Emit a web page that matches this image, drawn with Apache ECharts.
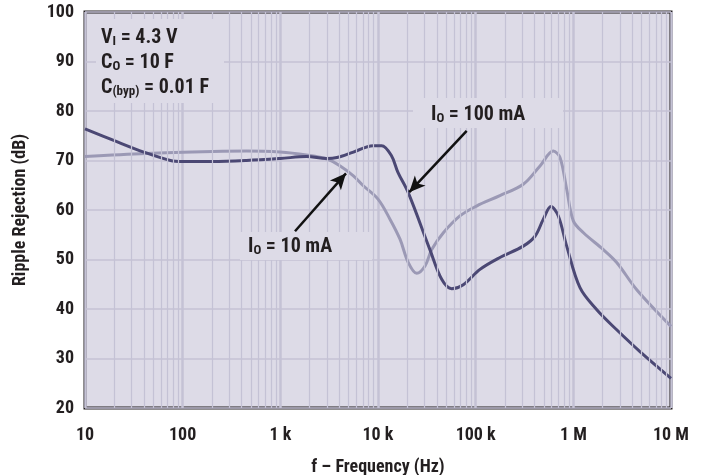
<!DOCTYPE html>
<html><head><meta charset="utf-8">
<script src="https://cdn.jsdelivr.net/npm/echarts@6/dist/echarts.min.js"></script>
<style>html,body{margin:0;padding:0;background:#fff}#c{width:707px;height:475px}</style>
</head><body><div id="c"></div>
<script>
// ---- data ----
const xTicks = [10, 100, 1000, 10000, 100000, 1000000, 10000000];
const xTickLabels = ['10', '100', '1 k', '10 k', '100 k', '1 M', '10 M'];
const yTicks = [20, 30, 40, 50, 60, 70, 80, 90, 100];

// I_O = 100 mA (dark curve)
const freq100 = [10, 20, 40, 75, 100, 200, 450, 1000, 1850, 3000, 3800, 5600, 8900, 10900, 13700, 16000, 20400, 34000, 44900, 56800, 74700, 110700, 177000, 307000, 405000, 492000, 590000, 702000, 855000, 1170000, 1730000, 2780000, 4810000, 10000000];
const db100 = [76.4, 74.0, 71.7, 70.0, 69.8, 69.8, 70.0, 70.4, 70.8, 70.4, 70.6, 71.7, 73.0, 73.0, 71.0, 67.6, 63.5, 52.0, 46.0, 44.1, 44.9, 48.0, 50.4, 52.7, 54.7, 58.1, 60.7, 58.8, 52.7, 44.3, 39.9, 35.8, 31.4, 26.0];

// I_O = 10 mA (light curve)
const freq10 = [10, 42, 204, 452, 990, 1850, 3000, 4100, 5600, 7070, 10000, 13300, 16800, 20400, 24900, 30300, 35500, 46700, 69000, 102000, 177000, 307000, 456000, 624000, 730000, 855000, 1000000, 1270000, 2030000, 2780000, 4460000, 10000000];
const db10 = [70.8, 71.4, 71.8, 71.9, 71.7, 71.1, 70.3, 68.9, 66.9, 64.9, 62.2, 58.1, 54.1, 49.4, 47.2, 48.7, 52.0, 55.4, 58.8, 60.8, 62.9, 65.2, 68.9, 71.9, 70.6, 64.2, 57.8, 55.4, 52.0, 49.4, 43.9, 36.5];

// annotation arrows (data coordinates: [tail], [tip])
const arrow10 = [[1413, 55.7], [4700, 67.4]];
const arrow100 = [[80900, 76.0], [20900, 63.6]];

// ---- styling ----
const FONT = "'Liberation Sans Narrow','Arial Narrow','Roboto Condensed','Liberation Sans',sans-serif";
const BG = '#dddbe7';
const GRIDC = '#c4c2d5';
const DARK = '#4b4874';
const LIGHT = '#9b99b5';

const minorFreqs = [];
for (let d = 0; d < xTicks.length - 1; d++) {
  for (let k = 2; k <= 9; k++) minorFreqs.push(xTicks[d] * k);
}
const zip = (a, b) => a.map((v, i) => [v, b[i]]);

const chart = echarts.init(document.getElementById('c'), null, {renderer: 'canvas'});

const rich = {
  m: {fontFamily: FONT, fontWeight: 'bold', fontSize: 20, color: '#231f20'},
  s: {fontFamily: FONT, fontWeight: 'bold', fontSize: 13, color: '#231f20', verticalAlign: 'bottom', lineHeight: 14}
};
function txt(x, y, t) {
  return {type: 'text', x: x, y: y, z: 20,
    style: {text: t, rich: rich, verticalAlign: 'middle', align: 'left', fontFamily: FONT, fontWeight: 'bold', fontSize: 20, fill: '#231f20'}};
}
function box(x, y, w, h) {
  return {type: 'rect', z: 15, shape: {x: x, y: y, width: w, height: h}, style: {fill: BG}};
}

chart.setOption({
  animation: false,
  backgroundColor: '#ffffff',
  grid: {left: 85, right: 36, top: 12, bottom: 67, show: true, backgroundColor: BG, borderColor: '#231f20', borderWidth: 3, z: 0,
    containLabel: false, outerBoundsMode: 'none'},
  xAxis: {
    type: 'log', logBase: 10, min: 10, max: 10000000,
    name: 'f – Frequency (Hz)', nameLocation: 'middle', nameGap: 50,
    nameTextStyle: {fontFamily: FONT, fontWeight: 'bold', fontSize: 18, color: '#231f20'},
    axisLine: {show: false}, axisTick: {show: false},
    axisLabel: {margin: 18, fontFamily: FONT, fontWeight: 'bold', fontSize: 18, color: '#231f20',
      formatter: v => { const i = xTicks.indexOf(Math.round(v)); return i >= 0 ? xTickLabels[i] : ''; }},
    splitLine: {show: true, lineStyle: {color: GRIDC, width: 2.5}}
  },
  yAxis: {
    type: 'value', min: 20, max: 100, interval: 10,
    name: 'Ripple Rejection (dB)', nameLocation: 'middle', nameGap: 56,
    nameTextStyle: {fontFamily: FONT, fontWeight: 'bold', fontSize: 18, color: '#231f20'},
    axisLine: {show: false}, axisTick: {show: false},
    axisLabel: {margin: 11, fontFamily: FONT, fontWeight: 'bold', fontSize: 18, color: '#231f20'},
    splitLine: {show: true, lineStyle: {color: GRIDC, width: 1.5}}
  },
  series: [
    {
      type: 'line', data: [], z: 1, silent: true,
      markLine: {
        silent: true, symbol: ['none', 'none'], label: {show: false},
        lineStyle: {color: GRIDC, width: 1.2, type: 'solid'},
        data: minorFreqs.map(f => ({xAxis: f}))
      }
    },
    {
      name: 'IO = 10 mA', type: 'line', data: zip(freq10, db10), smooth: 0.35, showSymbol: false, z: 3,
      lineStyle: {color: LIGHT, width: 3}, itemStyle: {color: LIGHT}
    },
    {
      name: 'IO = 100 mA', type: 'line', data: zip(freq100, db100), smooth: 0.35, showSymbol: false, z: 4,
      lineStyle: {color: DARK, width: 3}, itemStyle: {color: DARK},
      markLine: {
        silent: true, z: 30, symbol: ['none', 'arrow'], symbolSize: [11, 16], label: {show: false},
        lineStyle: {color: '#111111', width: 2.5, type: 'solid'},
        data: [
          [{coord: arrow10[0]}, {coord: arrow10[1]}],
          [{coord: arrow100[0]}, {coord: arrow100[1]}]
        ]
      }
    }
  ],
  graphic: [
    box(96, 19, 128, 84),
    txt(101, 38, '{m|V}{s|I}{m| = 4.3 V}'),
    txt(101, 63, '{m|C}{s|O}{m| = 10 F}'),
    txt(101, 88, '{m|C}{s|(byp)}{m| = 0.01 F}'),
    box(240, 232, 132, 28),
    txt(248, 247, '{m|I}{s|O}{m| = 10 mA}'),
    box(413, 98, 150, 30),
    txt(431, 115, '{m|I}{s|O}{m| = 100 mA}')
  ]
});
</script></body></html>
